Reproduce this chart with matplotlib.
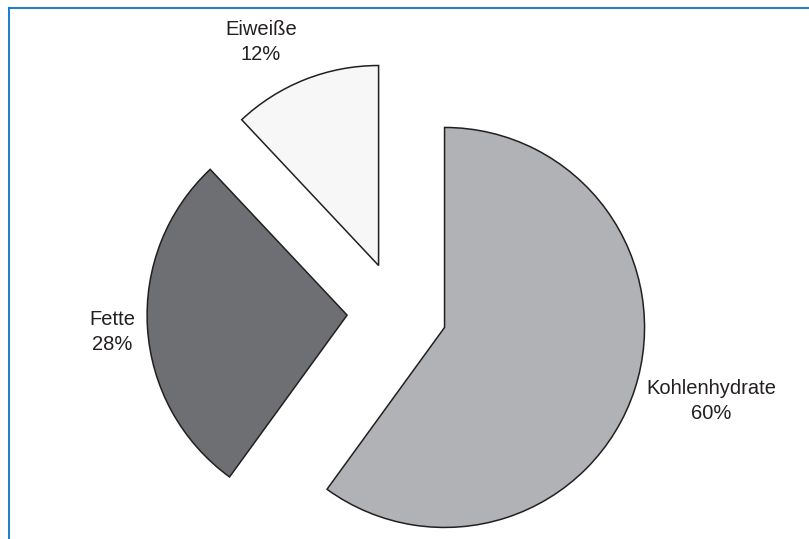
import numpy as np
import matplotlib
matplotlib.use("Agg")
import matplotlib.pyplot as plt
from matplotlib.lines import Line2D

# Nährstoffanteile
labels = ["Kohlenhydrate", "Fette", "Eiweiße"]
shares = [60, 28, 12]
colors = ["#b1b2b6", "#6e6f73", "#f7f7f7"]
explode = [0.25, 0.25, 0.25]

# label positions in data units (pie radius = 1)
label_pos = [(1.57, -0.445), (-1.425, -0.10), (-0.68, 1.35)]

plt.rcParams["font.family"] = ["Liberation Sans", "DejaVu Sans"]

W, H = 809, 539
cx, cy, scale = 397, 312, 200  # pie centre and radius in pixels

fig = plt.figure(figsize=(W / 100, H / 100), dpi=100)
ax = fig.add_axes([0, 0, 1, 1])
ax.pie(shares, colors=colors, explode=explode, startangle=90,
       counterclock=False,
       wedgeprops=dict(edgecolor="#231f20", linewidth=1.1))
ax.set_xlim(-cx / scale, (W - cx) / scale)
ax.set_ylim(-(H - cy) / scale, cy / scale)
ax.set_aspect("auto")
ax.axis("off")

for name, val, (x, y) in zip(labels, shares, label_pos):
    ax.text(x, y, f"{name}\n{val}%", ha="center", va="center",
            fontsize=14.5, color="#231f20", linespacing=1.45)

# blue frame at top and left
blue = "#0a72cc"
fig.add_artist(Line2D([9 / W, 1], [1 - 8 / H, 1 - 8 / H], color=blue, lw=1.3,
                      transform=fig.transFigure))
fig.add_artist(Line2D([9 / W, 9 / W], [0, 1 - 8 / H], color=blue, lw=1.3,
                      transform=fig.transFigure))

fig.savefig("out.png", dpi=100)
